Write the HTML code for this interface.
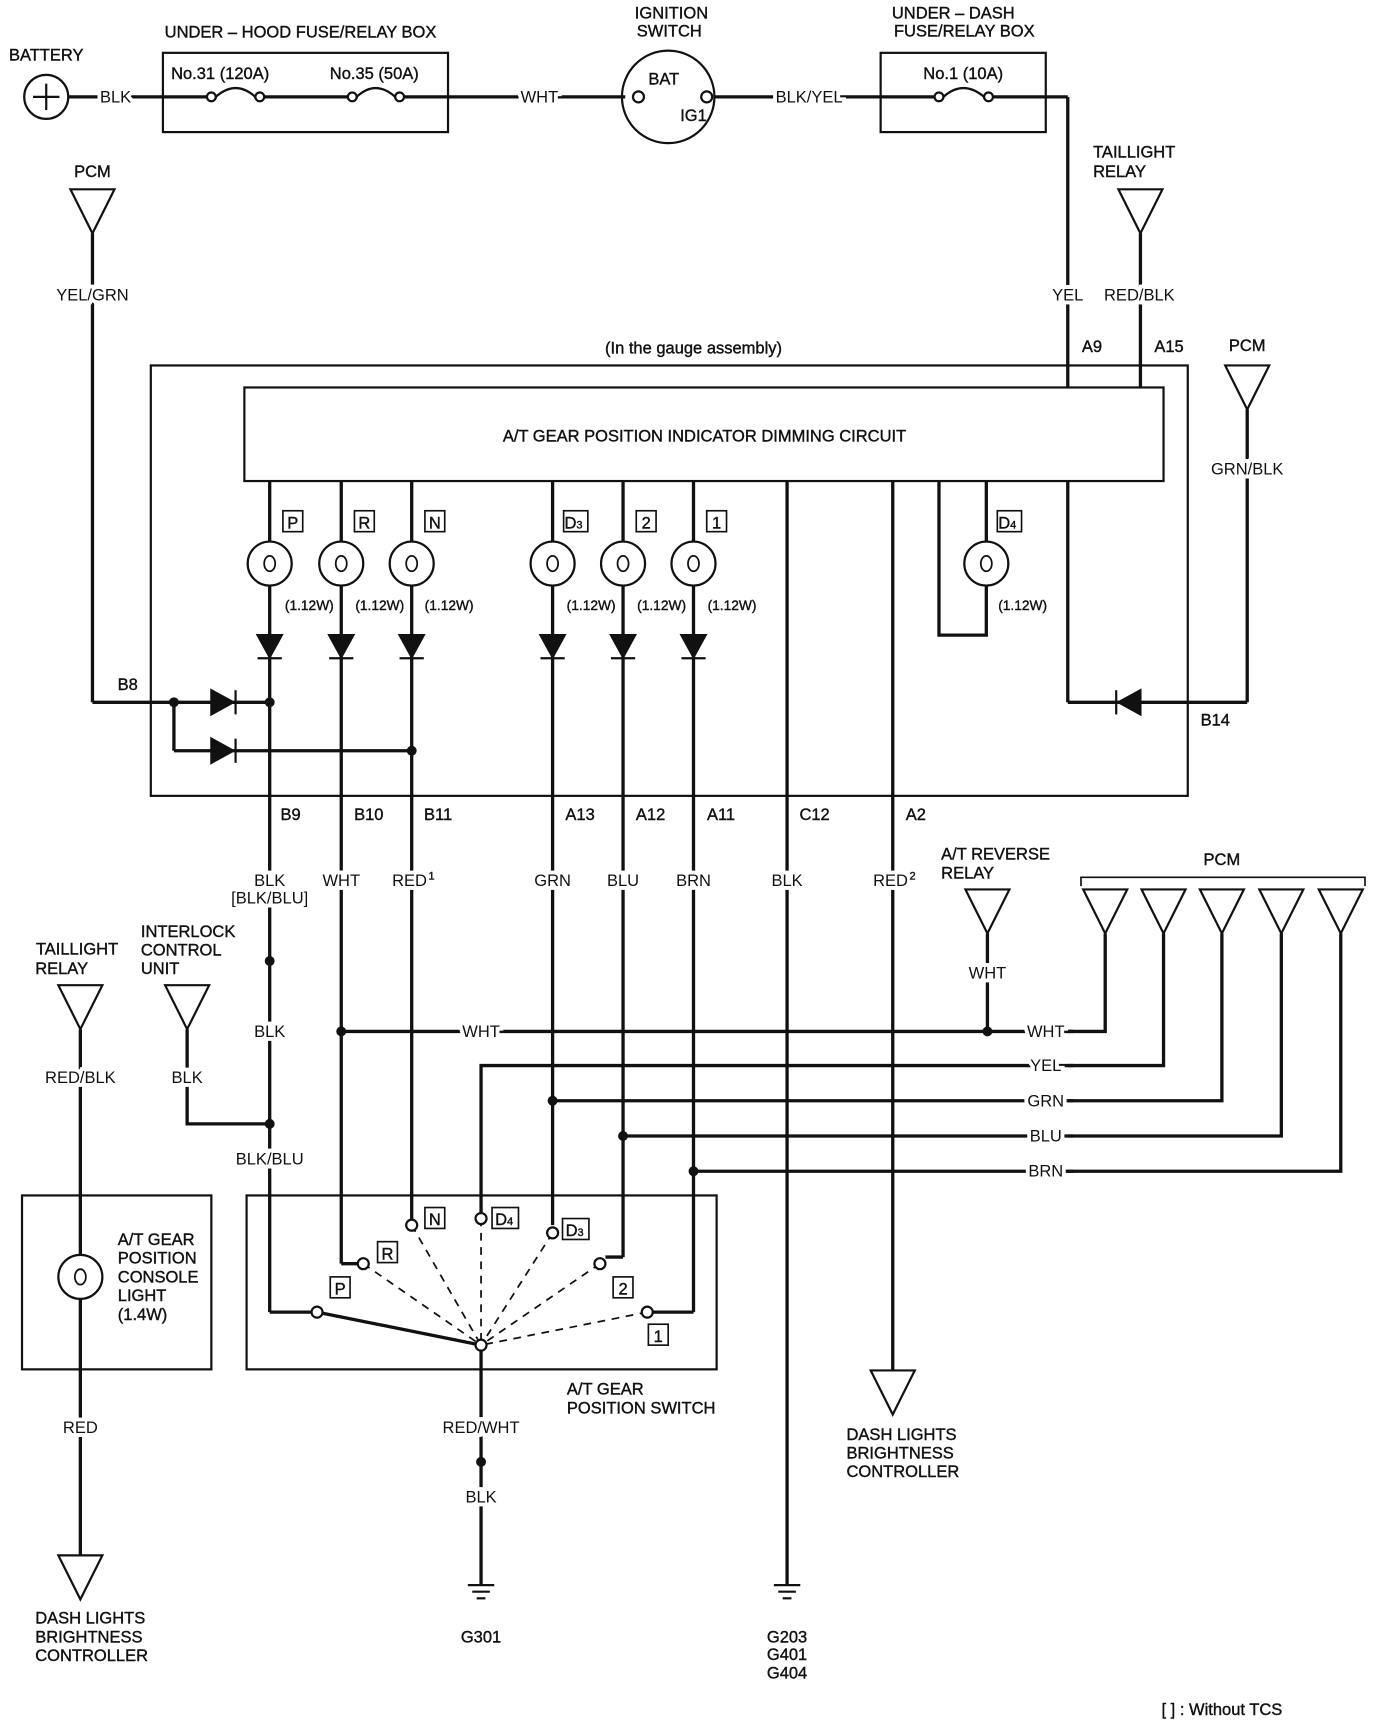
<!DOCTYPE html>
<html><head><meta charset="utf-8"><style>
html,body{margin:0;padding:0;background:#fff;}
svg{display:block;}
text{font-family:"Liberation Sans Narrow","Liberation Sans",sans-serif;font-size:15px;fill:#111;text-anchor:middle;stroke:#111;stroke-width:0.35px;}
.w{stroke:#fff;stroke-width:7px;paint-order:stroke;}
.sm{font-size:12.5px;}
</style></head><body>
<svg width="1376" height="1726" viewBox="0 0 1250 1568" preserveAspectRatio="none" xmlns="http://www.w3.org/2000/svg">
<g stroke="#111" stroke-width="3" fill="none">
<circle cx="42" cy="88" r="20" stroke-width="2"/>
<line x1="30" y1="88" x2="54" y2="88" stroke-width="2"/><line x1="42" y1="76" x2="42" y2="100" stroke-width="2"/>
<line x1="62" y1="88" x2="568" y2="88"/>
<rect x="148" y="48" width="259" height="72" stroke-width="2"/>
<rect x="800" y="48" width="150" height="72" stroke-width="2"/>
<circle cx="607" cy="88" r="42" stroke-width="2"/>
<line x1="649" y1="88" x2="970" y2="88"/>
<line x1="970" y1="88" x2="970" y2="352"/>
<line x1="1036" y1="212" x2="1036" y2="352"/>
<line x1="84" y1="212" x2="84" y2="638"/>
<line x1="84" y1="638" x2="245" y2="638"/>
<line x1="158" y1="638" x2="158" y2="682"/>
<line x1="158" y1="682" x2="374" y2="682"/>
<rect x="137" y="332" width="942" height="391" stroke-width="2"/>
<rect x="222" y="352" width="835" height="85" stroke-width="2"/>
<line x1="245" y1="437" x2="245" y2="1192"/>
<line x1="310" y1="437" x2="310" y2="1148"/>
<line x1="310" y1="1148" x2="330" y2="1148"/>
<line x1="374" y1="437" x2="374" y2="1113"/>
<line x1="502" y1="437" x2="502" y2="1113"/>
<line x1="566" y1="437" x2="566" y2="1142"/>
<line x1="566" y1="1142" x2="550" y2="1142"/>
<line x1="630" y1="437" x2="630" y2="1192"/>
<line x1="630" y1="1192" x2="592" y2="1192"/>
<line x1="245" y1="1192" x2="284" y2="1192"/>
<line x1="715" y1="437" x2="715" y2="1440"/>
<line x1="811" y1="437" x2="811" y2="1245"/>
<polyline points="853,437 853,577 896,577 896,532"/>
<line x1="896" y1="492" x2="896" y2="437"/>
<line x1="970" y1="437" x2="970" y2="638"/>
<line x1="970" y1="638" x2="1133" y2="638"/>
<line x1="1133" y1="372" x2="1133" y2="638"/>
<line x1="310" y1="937" x2="975" y2="937"/>
<line x1="897" y1="848" x2="897" y2="937"/>
<polyline points="437,1103 437,968 975,968"/>
<line x1="502" y1="1000" x2="975" y2="1000"/>
<line x1="566" y1="1032" x2="975" y2="1032"/>
<line x1="630" y1="1064" x2="975" y2="1064"/>
<polyline points="1004,848 1004,937 970,937"/>
<polyline points="1057,848 1057,968 970,968"/>
<polyline points="1110,848 1110,1000 970,1000"/>
<polyline points="1164,848 1164,1032 970,1032"/>
<polyline points="1218,848 1218,1064 970,1064"/>
<polyline points="982,805 982,797 1240,797 1240,805" stroke-width="1.5"/>
<polyline points="170,935 170,1021 245,1021"/>
<line x1="73" y1="935" x2="73" y2="1413"/>
<rect x="20" y="1086" width="172" height="158" stroke-width="2"/>
<rect x="224" y="1086" width="427" height="158" stroke-width="2"/>
<line x1="437" y1="1226" x2="437" y2="1440"/>
<line x1="288" y1="1192" x2="437" y2="1222"/>
<g stroke-width="1.6" stroke-dasharray="7,6">
<line x1="330" y1="1148" x2="437" y2="1222"/>
<line x1="374" y1="1113" x2="437" y2="1222"/>
<line x1="437" y1="1107" x2="437" y2="1222"/>
<line x1="502" y1="1120" x2="437" y2="1222"/>
<line x1="545" y1="1148" x2="437" y2="1222"/>
<line x1="588" y1="1192" x2="437" y2="1222"/>
</g>
<g stroke-width="2">
<polygon points="64,172 104,172 84,212"/>
<polygon points="1016,172 1056,172 1036,212"/>
<polygon points="1113,332 1153,332 1133,372"/>
<polygon points="53,895 93,895 73,935"/>
<polygon points="150,895 190,895 170,935"/>
<polygon points="877,808 917,808 897,848"/>
<polygon points="984,808 1024,808 1004,848"/>
<polygon points="1037,808 1077,808 1057,848"/>
<polygon points="1090,808 1130,808 1110,848"/>
<polygon points="1144,808 1184,808 1164,848"/>
<polygon points="1198,808 1238,808 1218,848"/>
<polygon points="791,1245 831,1245 811,1285"/>
<polygon points="53,1413 93,1413 73,1453"/>
</g>
<g stroke-width="2">
<line x1="425" y1="1440" x2="449" y2="1440"/><line x1="429" y1="1446" x2="445" y2="1446"/><line x1="433" y1="1452" x2="441" y2="1452"/>
<line x1="703" y1="1440" x2="727" y2="1440"/><line x1="707" y1="1446" x2="723" y2="1446"/><line x1="711" y1="1452" x2="719" y2="1452"/>
</g>
</g>
<g stroke="#fff" stroke-width="5"><line x1="197" y1="88" x2="231" y2="88"/><line x1="325" y1="88" x2="358" y2="88"/><line x1="858" y1="88" x2="893" y2="88"/><line x1="586" y1="88" x2="636" y2="88"/></g>
<g stroke="#111" stroke-width="2" fill="#fff">
<circle cx="192" cy="88" r="4"/><circle cx="236" cy="88" r="4"/>
<circle cx="320" cy="88" r="4"/><circle cx="363" cy="88" r="4"/>
<circle cx="853" cy="88" r="4"/><circle cx="898" cy="88" r="4"/>
<circle cx="580" cy="88" r="5"/><circle cx="642" cy="88" r="5"/>
</g>
<g stroke="#111" stroke-width="2" fill="none">
<path d="M196,88 Q214,72 232,88"/><path d="M324,88 Q341,72 359,88"/><path d="M857,88 Q875,72 894,88"/>
</g>
<g stroke="#111" stroke-width="2" fill="#fff">
<circle cx="245" cy="512" r="20"/><circle cx="310" cy="512" r="20"/><circle cx="374" cy="512" r="20"/>
<circle cx="502" cy="512" r="20"/><circle cx="566" cy="512" r="20"/><circle cx="630" cy="512" r="20"/>
<circle cx="896" cy="512" r="20"/><circle cx="73" cy="1160" r="20"/>
</g>
<g stroke="#111" stroke-width="1.6" fill="none">
<ellipse cx="245" cy="512" rx="5" ry="7"/><ellipse cx="310" cy="512" rx="5" ry="7"/><ellipse cx="374" cy="512" rx="5" ry="7"/>
<ellipse cx="502" cy="512" rx="5" ry="7"/><ellipse cx="566" cy="512" rx="5" ry="7"/><ellipse cx="630" cy="512" rx="5" ry="7"/>
<ellipse cx="896" cy="512" rx="5" ry="7"/><ellipse cx="73" cy="1160" rx="5" ry="7"/>
</g>
<g fill="#111" stroke="#111" stroke-width="2">
<polygon points="234,577 256,577 245,597"/><line x1="234" y1="598" x2="256" y2="598"/>
<polygon points="299,577 321,577 310,597"/><line x1="299" y1="598" x2="321" y2="598"/>
<polygon points="363,577 385,577 374,597"/><line x1="363" y1="598" x2="385" y2="598"/>
<polygon points="491,577 513,577 502,597"/><line x1="491" y1="598" x2="513" y2="598"/>
<polygon points="555,577 577,577 566,597"/><line x1="555" y1="598" x2="577" y2="598"/>
<polygon points="619,577 641,577 630,597"/><line x1="619" y1="598" x2="641" y2="598"/>
<polygon points="192,627 192,649 212,638"/><line x1="214" y1="627" x2="214" y2="649"/>
<polygon points="192,671 192,693 212,682"/><line x1="214" y1="671" x2="214" y2="693"/>
<polygon points="1036,627 1036,649 1016,638"/><line x1="1014" y1="627" x2="1014" y2="649"/>
</g>
<g fill="#111">
<circle cx="158" cy="638" r="4.5"/><circle cx="245" cy="638" r="4.5"/><circle cx="374" cy="682" r="4.5"/>
<circle cx="245" cy="873" r="4.5"/><circle cx="245" cy="1021" r="4.5"/><circle cx="310" cy="937" r="4.5"/>
<circle cx="897" cy="937" r="4.5"/><circle cx="502" cy="1000" r="4.5"/><circle cx="566" cy="1032" r="4.5"/>
<circle cx="630" cy="1064" r="4.5"/><circle cx="437" cy="1328" r="4.5"/>
</g>
<g stroke="#111" stroke-width="2" fill="#fff">
<circle cx="288" cy="1192" r="5"/><circle cx="330" cy="1148" r="5"/><circle cx="374" cy="1113" r="5"/>
<circle cx="437" cy="1107" r="5"/><circle cx="502" cy="1120" r="5"/><circle cx="545" cy="1148" r="5"/>
<circle cx="588" cy="1192" r="5"/><circle cx="437" cy="1222" r="5"/>
</g>
<g stroke="#111" stroke-width="1.5" fill="none">
<rect x="257" y="464" width="18" height="19"/><rect x="322" y="464" width="18" height="19"/><rect x="386" y="464" width="18" height="19"/>
<rect x="512" y="464" width="22" height="19"/><rect x="578" y="464" width="18" height="19"/><rect x="642" y="464" width="18" height="19"/>
<rect x="906" y="464" width="22" height="19"/>
<rect x="300" y="1160" width="18" height="19"/><rect x="343" y="1128" width="18" height="19"/><rect x="386" y="1097" width="18" height="19"/>
<rect x="447" y="1097" width="24" height="19"/><rect x="511" y="1107" width="24" height="19"/>
<rect x="557" y="1160" width="18" height="19"/><rect x="589" y="1203" width="18" height="19"/>
</g>
<g>
<text x="266" y="480">P</text><text x="331" y="480">R</text><text x="395" y="480">N</text>
<text x="521" y="480">D<tspan font-size="10">3</tspan></text><text x="587" y="480">2</text><text x="651" y="480">1</text>
<text x="915" y="480">D<tspan font-size="10">4</tspan></text>
<text x="309" y="1176">P</text><text x="352" y="1144">R</text><text x="395" y="1113">N</text>
<text x="458" y="1113">D<tspan font-size="10">4</tspan></text><text x="522" y="1123">D<tspan font-size="10">3</tspan></text>
<text x="566" y="1176">2</text><text x="598" y="1219">1</text>
</g>
<text x="42" y="55">BATTERY</text>
<text x="105" y="93" class="w">BLK</text>
<text x="273" y="34">UNDER – HOOD FUSE/RELAY BOX</text>
<text x="200" y="72">No.31 (120A)</text><text x="340" y="72">No.35 (50A)</text>
<text x="490" y="93" class="w">WHT</text>
<text x="610" y="17">IGNITION</text><text x="608" y="33">SWITCH</text>
<text x="603" y="77">BAT</text><text x="630" y="110">IG1</text>
<text x="735" y="93" class="w">BLK/YEL</text>
<text x="866" y="17">UNDER – DASH</text><text x="876" y="33">FUSE/RELAY BOX</text>
<text x="875" y="72">No.1 (10A)</text>
<text x="993" y="143" style="text-anchor:start">TAILLIGHT</text><text x="993" y="161" style="text-anchor:start">RELAY</text>
<text x="84" y="161">PCM</text>
<text x="84" y="273" class="w">YEL/GRN</text>
<text x="970" y="273" class="w">YEL</text>
<text x="1035" y="273" class="w">RED/BLK</text>
<text x="630" y="321">(In the gauge assembly)</text>
<text x="992" y="320">A9</text><text x="1062" y="320">A15</text><text x="1133" y="319">PCM</text>
<text x="1133" y="431" class="w">GRN/BLK</text>
<text x="640" y="401">A/T GEAR POSITION INDICATOR DIMMING CIRCUIT</text>
<text x="281" y="554" class="sm">(1.12W)</text><text x="345" y="554" class="sm">(1.12W)</text><text x="408" y="554" class="sm">(1.12W)</text>
<text x="537" y="554" class="sm">(1.12W)</text><text x="601" y="554" class="sm">(1.12W)</text><text x="665" y="554" class="sm">(1.12W)</text>
<text x="929" y="554" class="sm">(1.12W)</text>
<text x="116" y="627">B8</text><text x="1104" y="659">B14</text>
<text x="264" y="745">B9</text><text x="335" y="745">B10</text><text x="398" y="745">B11</text>
<text x="527" y="745">A13</text><text x="591" y="745">A12</text><text x="655" y="745">A11</text>
<text x="740" y="745">C12</text><text x="832" y="745">A2</text>
<text x="245" y="805" class="w">BLK</text><text x="245" y="821" class="w">[BLK/BLU]</text>
<text x="310" y="805" class="w">WHT</text>
<text x="372" y="805" class="w">RED</text><text x="392" y="799" style="font-size:10px">1</text>
<text x="502" y="805" class="w">GRN</text><text x="566" y="805" class="w">BLU</text><text x="630" y="805" class="w">BRN</text>
<text x="715" y="805" class="w">BLK</text>
<text x="809" y="805" class="w">RED</text><text x="829" y="799" style="font-size:10px">2</text>
<text x="855" y="781" style="text-anchor:start">A/T REVERSE</text><text x="855" y="798" style="text-anchor:start">RELAY</text>
<text x="897" y="889" class="w">WHT</text>
<text x="1110" y="786">PCM</text>
<text x="70" y="867">TAILLIGHT</text><text x="56" y="885">RELAY</text>
<text x="128" y="851" style="text-anchor:start">INTERLOCK</text><text x="128" y="868" style="text-anchor:start">CONTROL</text><text x="128" y="885" style="text-anchor:start">UNIT</text>
<text x="245" y="942" class="w">BLK</text>
<text x="437" y="942" class="w">WHT</text>
<text x="950" y="942" class="w">WHT</text><text x="950" y="973" class="w">YEL</text><text x="950" y="1005" class="w">GRN</text>
<text x="950" y="1037" class="w">BLU</text><text x="950" y="1069" class="w">BRN</text>
<text x="73" y="984" class="w">RED/BLK</text><text x="170" y="984" class="w">BLK</text>
<text x="245" y="1058" class="w">BLK/BLU</text>
<text x="107" y="1131" style="text-anchor:start">A/T GEAR</text><text x="107" y="1148" style="text-anchor:start">POSITION</text>
<text x="107" y="1165" style="text-anchor:start">CONSOLE</text><text x="107" y="1182" style="text-anchor:start">LIGHT</text>
<text x="107" y="1199" style="text-anchor:start">(1.4W)</text>
<text x="73" y="1302" class="w">RED</text>
<text x="515" y="1267" style="text-anchor:start">A/T GEAR</text><text x="515" y="1284" style="text-anchor:start">POSITION SWITCH</text>
<text x="437" y="1302" class="w">RED/WHT</text><text x="437" y="1365" class="w">BLK</text>
<text x="769" y="1308" style="text-anchor:start">DASH LIGHTS</text><text x="769" y="1325" style="text-anchor:start">BRIGHTNESS</text><text x="769" y="1342" style="text-anchor:start">CONTROLLER</text>
<text x="32" y="1475" style="text-anchor:start">DASH LIGHTS</text><text x="32" y="1492" style="text-anchor:start">BRIGHTNESS</text><text x="32" y="1509" style="text-anchor:start">CONTROLLER</text>
<text x="437" y="1492">G301</text>
<text x="715" y="1492">G203</text><text x="715" y="1508">G401</text><text x="715" y="1525">G404</text>
<text x="1110" y="1558">[   ] : Without TCS</text>
</svg>
</body></html>
